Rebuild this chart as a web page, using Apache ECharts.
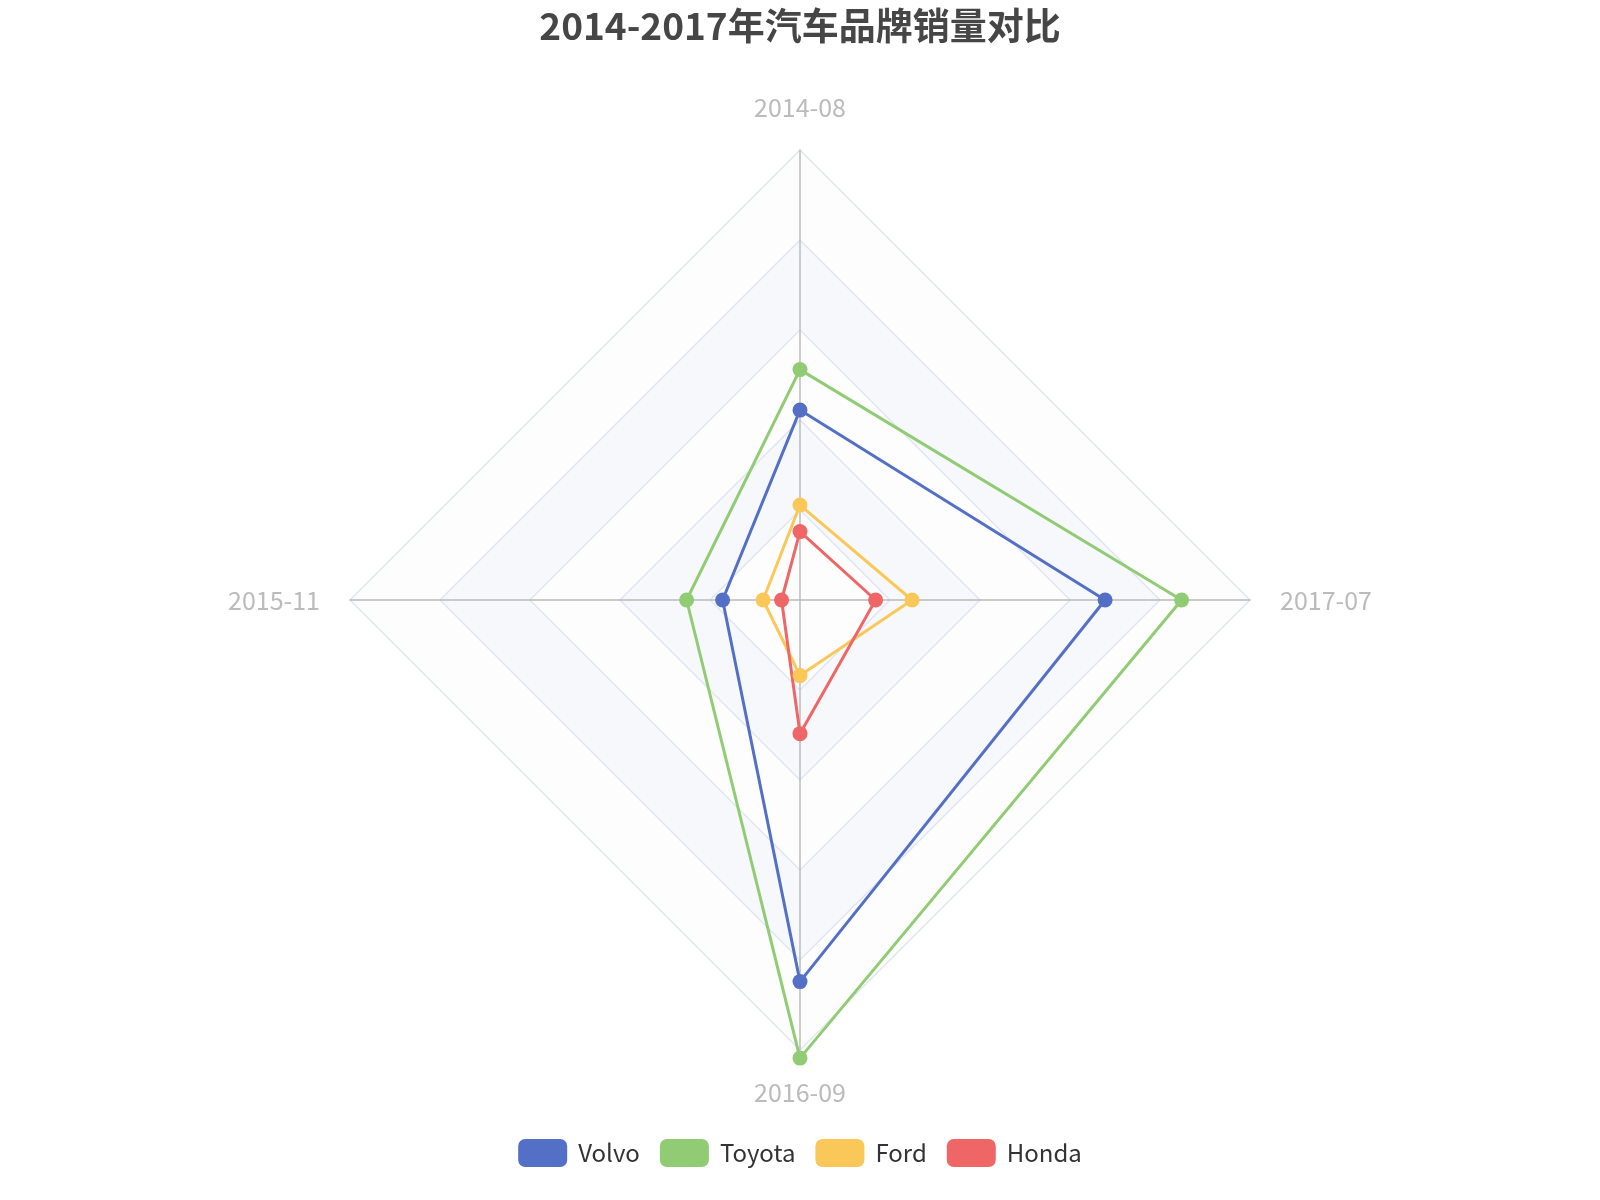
<!DOCTYPE html>
<html>
<head>
  <meta charset="UTF-8">
  <title>汽车品牌销量对比</title>
  <script src="https://cdn.jsdelivr.net/npm/echarts@6/dist/echarts.min.js"></script>
  <style>
    html, body { margin: 0; padding: 0; background: #fff; }
    #radar { width: 1600px; height: 1200px; }
  </style>
</head>
<body>
  <div id="radar"></div>
  <script>
    // indicators go counterclockwise from the top
    var months = ['2014-08', '2015-11', '2016-09', '2017-07'];
    var maxValue = [1000, 1000, 1000, 1000];
    var brands = ['Volvo', 'Toyota', 'Ford', 'Honda'];
    var volvo = [422, 172, 848, 678];
    var toyota = [512, 252, 1018, 848];
    var ford = [211, 82, 168, 249];
    var honda = [152, 41, 297, 168];
    var colors = ['#5470c6', '#91cc75', '#fac858', '#ee6666'];

    var chart = echarts.init(document.getElementById('radar'), null, {renderer: 'canvas'});
    var font = '"Microsoft YaHei", "Noto Sans CJK SC", "Noto Sans", sans-serif';

    var values = [volvo, toyota, ford, honda];
    var seriesData = brands.map(function (name, i) {
      return {name: name, value: values[i]};
    });

    chart.setOption({
      color: colors,
      title: {
        text: '2014-2017年汽车品牌销量对比',
        left: 'center',
        top: 2,
        textStyle: {fontSize: 37, fontWeight: 'bold', color: '#464646', fontFamily: font}
      },
      legend: {
        bottom: 28,
        left: 'center',
        itemWidth: 49,
        itemHeight: 28,
        itemGap: 20,
        textStyle: {fontSize: 24, color: '#333', fontFamily: font, padding: [0, 0, 0, 6]},
        data: brands
      },
      radar: {
        center: ['50%', '50%'],
        radius: '75%',
        nameGap: 30,
        axisName: {color: '#bbb', fontSize: 25, fontFamily: font},
        axisLine: {lineStyle: {color: '#bbb', width: 1.5}},
        splitLine: {lineStyle: {color: '#E0E6F1', width: 1.5}},
        splitArea: {areaStyle: {color: ['rgba(250,250,250,0.3)', 'rgba(210,219,238,0.2)']}},
        indicator: months.map(function (m, i) {
          return {name: m, max: maxValue[i]};
        })
      },
      series: [{
        type: 'radar',
        symbolSize: 15,
        lineStyle: {width: 3},
        data: seriesData
      }]
    });
  </script>
</body>
</html>
